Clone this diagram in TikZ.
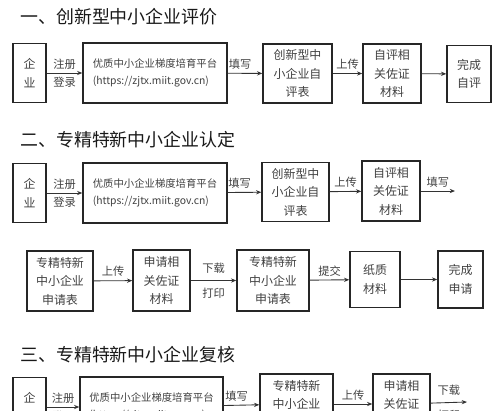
\documentclass[tikz,border=0pt]{standalone}
\usepackage{fontspec}
\newfontfamily\cjk{Noto Sans CJK SC}
\usepackage{tikz}
\usetikzlibrary{arrows.meta, positioning}

\begin{document}
\begin{tikzpicture}[x=0.02cm, y=-0.02cm,
  box/.style={draw=black!85, line width=0.8pt, inner sep=0pt, align=center, text=black!75, font=\cjk\fontsize{6.8}{10.5}\selectfont},
  qybox/.style={box, minimum width=0.66cm, minimum height=1.18cm, font=\cjk\fontsize{6.8}{11.2}\selectfont},
  ptbox/.style={box, minimum width=2.88cm, minimum height=1.2cm, align=left, font=\cjk\fontsize{5.9}{9.6}\selectfont},
  lab/.style={text=black!75, font=\cjk\fontsize{6.4}{7}\selectfont, inner sep=2pt},
  ttl/.style={anchor=west, inner sep=0pt, text=black!90, font=\cjk\fontsize{10.2}{12}\selectfont},
  arr/.style={-{Stealth[length=3pt, width=2.4pt]}, line width=0.5pt, black!80}
]
  \useasboundingbox (0,0) rectangle (500,410);
  \clip (0,0) rectangle (500,410);

  \node[ttl] (t1) at (20,17) {一、创新型中小企业评价};
  \node[qybox] (qy1) at (29.5,73) {企\\业};
  \node[ptbox] (pt1) at (155,73) {优质中小企业梯度培育平台\\(https://zjtx.miit.gov.cn)};
  \node[box, minimum width=1.38cm, minimum height=1.18cm] (cx1) at (297.5,73.5) {创新型中\\小企业自\\评表};
  \node[box, minimum width=1.16cm, minimum height=1.18cm] (zp1) at (392,73.5) {自评相\\关佐证\\材料};
  \node[box, minimum width=0.88cm, minimum height=1.14cm] (wc1) at (469,74) {完成\\自评};
  \draw[arr] (qy1) -- node[lab, above] (zc1) {注册} node[lab, below] (dl1) {登录} (pt1);
  \draw[arr] (pt1) -- node[lab, above, xshift=-0.1cm] (tx1) {填写} (cx1);
  \draw[arr] (cx1) -- node[lab, above] (sc1) {上传} (zp1);
  \draw[arr] (zp1) -- (wc1);

  \node[ttl] (t2) at (20,140) {二、专精特新中小企业认定};
  \node[qybox] (qy2) at (29.5,193) {企\\业};
  \node[ptbox] (pt2) at (155,193) {优质中小企业梯度培育平台\\(https://zjtx.miit.gov.cn)};
  \node[box, minimum width=1.34cm, minimum height=1.18cm] (cx2) at (295.5,192) {创新型中\\小企业自\\评表};
  \node[box, minimum width=1.16cm, minimum height=1.2cm] (zp2) at (391,191) {自评相\\关佐证\\材料};
  \coordinate (end2) at (455,191);
  \draw[arr] (qy2) -- node[lab, above] (zc2) {注册} node[lab, below] (dl2) {登录} (pt2);
  \draw[arr] (pt2) -- node[lab, above, xshift=-0.1cm] (tx2) {填写} (cx2);
  \draw[arr] (cx2) -- node[lab, above] (sc2) {上传} (zp2);
  \draw[arr] (zp2) -- node[lab, above] (tx2b) {填写} (end2);

  \node[box, minimum width=1.32cm, minimum height=1.2cm] (sb3) at (60,281) {专精特新\\中小企业\\申请表};
  \node[box, minimum width=1.14cm, minimum height=1.22cm] (sq3) at (161.5,280.5) {申请相\\关佐证\\材料};
  \node[box, minimum width=1.44cm, minimum height=1.22cm] (sc3) at (273,280.5) {专精特新\\中小企业\\申请表};
  \node[box, minimum width=1.0cm, minimum height=1.12cm] (zz3) at (375,279.5) {纸质\\材料};
  \node[box, minimum width=0.9cm, minimum height=1.14cm] (wc3) at (460.5,279.5) {完成\\申请};
  \draw[arr] (sb3) -- node[lab, above] (up3) {上传} (sq3);
  \draw[arr] (sq3) -- node[lab, above=2pt] (xz3) {下载} node[lab, below=2pt] (dy3) {打印} (sc3);
  \draw[arr] (sc3) -- node[lab, above] (tj3) {提交} (zz3);
  \draw[arr] (zz3) -- (wc3);

  \node[ttl] (t3) at (20,355) {三、专精特新中小企业复核};
  \node[qybox] (qy4) at (29.5,407) {企\\业};
  \node[ptbox, minimum width=2.86cm] (pt4) at (151.5,407) {优质中小企业梯度培育平台\\(https://zjtx.miit.gov.cn)};
  \node[box, minimum width=1.46cm, minimum height=1.2cm] (sb4) at (296.5,404) {专精特新\\中小企业\\申请表};
  \node[box, minimum width=1.14cm, minimum height=1.2cm] (sq4) at (401.5,404) {申请相\\关佐证\\材料};
  \coordinate (end4) at (467,402);
  \draw[arr] (qy4) -- node[lab, above] (zc4) {注册} node[lab, below] (dl4) {登录} (pt4);
  \draw[arr] (pt4) -- node[lab, above, xshift=-0.1cm] (tx4) {填写} (sb4);
  \draw[arr] (sb4) -- node[lab, above] (up4) {上传} (sq4);
  \draw[arr] (sq4) -- node[lab, above=2pt] (xz4) {下载} node[lab, below=2pt] (dy4) {打印} (end4);
\end{tikzpicture}
\end{document}
